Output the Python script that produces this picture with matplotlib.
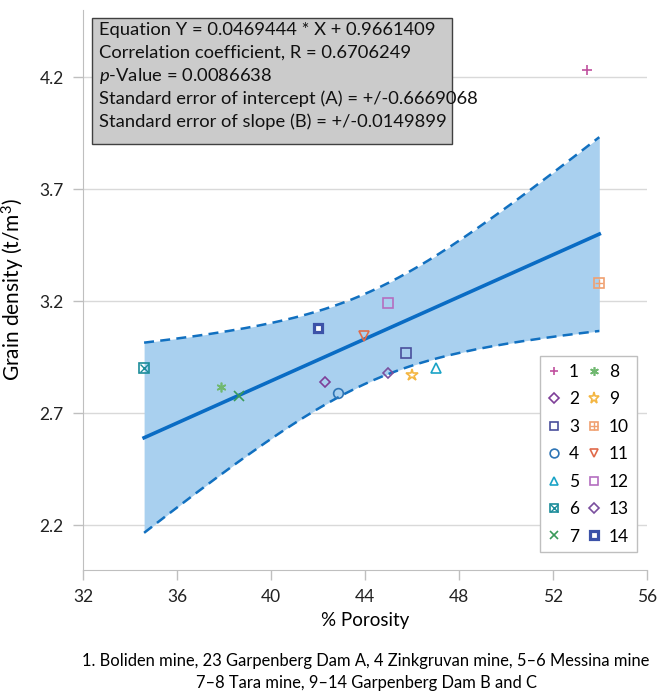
import numpy as np
import matplotlib
matplotlib.use('Agg')
import matplotlib.pyplot as plt
from matplotlib.patches import Rectangle

plt.rcParams['font.family'] = ['Lato', 'DejaVu Sans']
plt.rcParams['mathtext.fontset'] = 'custom'
plt.rcParams['mathtext.it'] = 'Lato:italic'
plt.rcParams['mathtext.rm'] = 'Lato'

# samples 1..14
labels = [str(i) for i in range(1, 15)]
porosity = [53.46, 42.28, 45.75, 42.87, 47.03, 34.60, 38.63,
            37.88, 45.98, 53.97, 43.96, 44.99, 44.96, 41.98]
density = [4.231, 2.841, 2.970, 2.789, 2.900, 2.900, 2.778,
           2.818, 2.869, 3.280, 3.045, 3.194, 2.878, 3.079]

# regression results shown in the box
slope = 0.0469444
intercept = 0.9661409
stats_lines = [
    "Equation Y = 0.0469444 * X + 0.9661409",
    "Correlation coefficient, R = 0.6706249",
    "$p$-Value = 0.0086638",
    "Standard error of intercept (A) = +/-0.6669068",
    "Standard error of slope (B) = +/-0.0149899",
]
band_k = 2.6  # multiplier used for the confidence band

x_ticks = [32, 36, 40, 44, 48, 52, 56]
y_ticks = [2.2, 2.7, 3.2, 3.7, 4.2]

# marker, colour, extra overlay marker
styles = {
    '1': ('+', '#c0509e', None),
    '2': ('D', '#7e3f98', None),
    '3': ('s', '#4a4f9c', None),
    '4': ('o', '#2e75b6', None),
    '5': ('^', '#1aa3c6', None),
    '6': ('s', '#1b8c9a', 'x'),
    '7': ('x', '#3a9a5a', None),
    '8': ((6, 2, 0), '#70b870', None),
    '9': ('*', '#f4b642', None),
    '10': ('s', '#f0a070', '+'),
    '11': ('v', '#e06a4a', None),
    '12': ('s', '#b46ec0', None),
    '13': ('D', '#7a4f9e', None),
    '14': ('s', '#3c52a8', None),
}

fig = plt.figure(figsize=(6.57, 6.93), dpi=100)
ax = fig.add_axes([83 / 657, 1 - 570 / 693, 564 / 657, 560 / 693])

x = np.array(porosity)
y = np.array(density)
n = len(x)
resid = y - (slope * x + intercept)
s = np.sqrt(np.sum(resid ** 2) / (n - 2))
sxx = np.sum((x - x.mean()) ** 2)
xs = np.linspace(x.min(), x.max(), 200)
yfit = slope * xs + intercept
half = band_k * s * np.sqrt(1 / n + (xs - x.mean()) ** 2 / sxx)

ax.fill_between(xs, yfit - half, yfit + half, color='#a9d0ef', lw=0, zorder=1)
ax.plot(xs, yfit + half, color='#1170c0', lw=1.8, ls=(0, (4, 2.5)), zorder=2)
ax.plot(xs, yfit - half, color='#1170c0', lw=1.8, ls=(0, (4, 2.5)), zorder=2)
ax.plot(xs, yfit, color='#0a6cc4', lw=2.6, zorder=3)

handles = []
for lab, px, py in zip(labels, porosity, density):
    mk, col, extra = styles[lab]
    ms = 7
    if mk == 'D':
        ms = 5.5
    if mk == '*':
        ms = 9
    if lab == '14':
        h = ax.plot([px], [py], ls='none', marker='s', ms=6, mfc='white',
                    mec=col, mew=2.3, zorder=4)[0]
    else:
        h = ax.plot([px], [py], ls='none', marker=mk, ms=ms, mfc='none',
                    mec=col, mew=1.2, zorder=4)[0]
    if extra:
        h2 = ax.plot([px], [py], ls='none', marker=extra, ms=6, mfc='none',
                     mec=col, mew=1.0, zorder=4)[0]
        h = (h, h2)
    handles.append(h)

leg = ax.legend(handles, labels, ncol=2, loc='lower right',
                bbox_to_anchor=(0.997, 0.016), fontsize=12.5, frameon=True,
                fancybox=False, edgecolor='#bfbfbf', framealpha=1,
                handlelength=0.8, handletextpad=0.45, columnspacing=0.45,
                labelspacing=0.66, borderpad=0.45, markerscale=0.9)
leg.get_frame().set_linewidth(1.0)

ax.set_xlim(32, 56)
ax.set_ylim(2.0, 4.5)
ax.set_xticks(x_ticks)
ax.set_yticks(y_ticks)
ax.set_yticklabels([f"{v:.1f}" for v in y_ticks])
ax.yaxis.grid(True, color='#d9d9d9', lw=1.0)
ax.set_axisbelow(True)
for sp in ['top', 'right']:
    ax.spines[sp].set_visible(False)
for sp in ['left', 'bottom']:
    ax.spines[sp].set_color('#bfbfbf')
ax.tick_params(colors='#bfbfbf', labelcolor='#222222', labelsize=12.5,
               length=7, width=1.0, pad=7)

ax.set_xlabel('% Porosity', fontsize=13.5, labelpad=5)
ax.set_ylabel('Grain density (t/m$^3$)', fontsize=15, labelpad=9)

ax.add_patch(Rectangle((9 / 564, 0.7607), 360 / 564, 0.225,
                       transform=ax.transAxes, facecolor='#cbcbcb',
                       edgecolor='#404040', lw=1.0, zorder=5))
for i, line in enumerate(stats_lines):
    ax.text(16 / 564, (570 - (30 + 22.9 * i)) / 560, line,
            transform=ax.transAxes, fontsize=13.2, va='center', ha='left',
            color='#111111', zorder=6)

fig.text(366 / 657, 1 - 661 / 693,
         '1. Boliden mine, 23 Garpenberg Dam A, 4 Zinkgruvan mine, 5\u20136 Messina mine',
         ha='center', va='center', fontsize=11.9)
fig.text(366 / 657, 1 - 683 / 693,
         '7\u20138 Tara mine, 9\u201314 Garpenberg Dam B and C',
         ha='center', va='center', fontsize=11.9)

fig.savefig('out.png', dpi=100)
